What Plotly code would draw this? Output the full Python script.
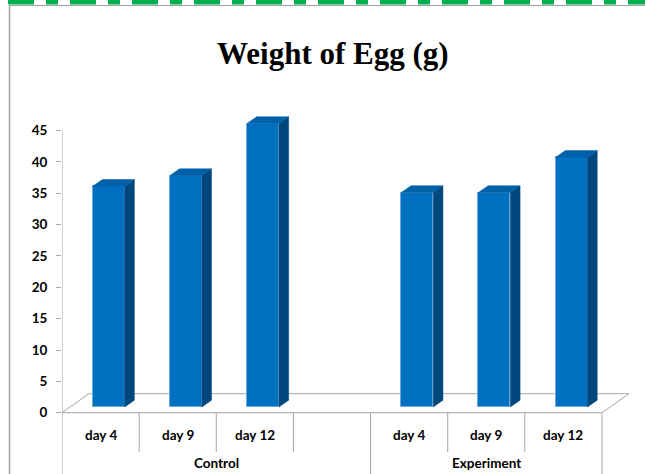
import plotly.graph_objects as go

# --- data -------------------------------------------------------------
day_labels = ["day 4", "day 9", "day 12", "", "day 4", "day 9", "day 12"]
egg_weight = [35.2, 36.9, 45.2, None, 34.2, 34.2, 39.8]
groups = ["Control", "Experiment"]
group_spans = [(0, 3), (4, 6)]          # first / last category index of each group
y_ticks = [0, 5, 10, 15, 20, 25, 30, 35, 40, 45]
title_text = "Weight of Egg (g)"

# --- styling / geometry ----------------------------------------------
W, H = 645, 474
PX_PER_CAT = 77.14                       # horizontal pixels per category
PX_PER_UNIT = 6.27                       # vertical pixels per gram
LEFT_PX, RIGHT_PX = 62, 632              # plot area (pixels)
TOP_PX, BOTTOM_PX = 100, 474
ZERO_PX = 412.7                          # pixel row of value 0 on the front edge

x_range = [-0.5, -0.5 + (RIGHT_PX - LEFT_PX) / PX_PER_CAT]
y_range = [-(BOTTOM_PX - ZERO_PX) / PX_PER_UNIT, (ZERO_PX - TOP_PX) / PX_PER_UNIT]

FLOOR_DX = 27 / PX_PER_CAT               # oblique depth of the floor (data units)
FLOOR_DY = 19 / PX_PER_UNIT
BAR_FRONT, BAR_BACK = 0.30, 0.66         # bar position inside the depth (fractions)
BAR_W = 32 / PX_PER_CAT

FRONT = "#0070C0"
TOP = "#0061A8"
SIDE = "#00477E"
EDGE = "#6FA8DC"
GRID = "#A6A6A6"
TXT = "#000000"

n = len(day_labels)


def px_x(p):
    return (p - LEFT_PX) / (RIGHT_PX - LEFT_PX)


def px_y(p):
    return (BOTTOM_PX - p) / (BOTTOM_PX - TOP_PX)


def val_at_px(p):
    return -(p - ZERO_PX) / PX_PER_UNIT


fig = go.Figure()

# --- 3D column faces --------------------------------------------------
base = BAR_FRONT * FLOOR_DY
ddx = (BAR_BACK - BAR_FRONT) * FLOOR_DX
ddy = (BAR_BACK - BAR_FRONT) * FLOOR_DY
xs, ys, bases = [], [], []
for i, v in enumerate(egg_weight):
    if v is None:
        continue
    xc = i + BAR_FRONT * FLOOR_DX
    xl, xr = xc - BAR_W / 2, xc + BAR_W / 2
    top = base + v
    # right side face
    fig.add_trace(go.Scatter(
        x=[xr, xr, xr + ddx, xr + ddx, xr], y=[base, top, top + ddy, base + ddy, base],
        fill="toself", fillcolor=SIDE, mode="lines", line=dict(width=0.5, color=SIDE),
        hoverinfo="skip", showlegend=False))
    # top face
    fig.add_trace(go.Scatter(
        x=[xl, xr, xr + ddx, xl + ddx, xl], y=[top, top, top + ddy, top + ddy, top],
        fill="toself", fillcolor=TOP, mode="lines", line=dict(width=0.5, color=TOP),
        hoverinfo="skip", showlegend=False))
    xs.append(xc)
    ys.append(v)
    bases.append(base)

# front faces
fig.add_trace(go.Bar(
    x=xs, y=ys, base=bases, width=BAR_W,
    marker=dict(color=FRONT, line=dict(color=EDGE, width=1)),
    showlegend=False, hovertemplate="%{y}<extra></extra>"))

# --- floor and vertical axis -----------------------------------------
shapes = []
x0, x1 = -0.5, n - 0.5
floor_lines = [
    (x0, 0, x1, 0),
    (x0 + FLOOR_DX, FLOOR_DY, x1 + FLOOR_DX, FLOOR_DY),
    (x0, 0, x0 + FLOOR_DX, FLOOR_DY),
    (x1, 0, x1 + FLOOR_DX, FLOOR_DY),
    (x0, 0, x0, max(y_ticks)),
]
for a, b, c, d in floor_lines:
    shapes.append(dict(type="line", xref="x", yref="y", x0=a, y0=b, x1=c, y1=d,
                       line=dict(color=GRID, width=1), layer="below"))

# category dividers: short between days, long at group boundaries
group_edges = {x0, x1} | {s[1] + 0.5 for s in group_spans[:-1]}
for k in range(n + 1):
    xv = -0.5 + k
    long_line = any(abs(xv - g) < 1e-9 for g in group_edges)
    y_end = y_range[0] if long_line else val_at_px(452)
    shapes.append(dict(type="line", xref="x", yref="y", x0=xv, x1=xv, y0=0, y1=y_end,
                       line=dict(color=GRID, width=1), layer="below"))

# chart frame: grey border with green dashed top
shapes.append(dict(type="line", xref="paper", yref="paper",
                   x0=px_x(9.5), x1=px_x(9.5), y0=px_y(5), y1=px_y(480),
                   line=dict(color="#A0A0A0", width=1.5)))
shapes.append(dict(type="line", xref="paper", yref="paper",
                   x0=px_x(9), x1=px_x(650), y0=px_y(5.5), y1=px_y(5.5),
                   line=dict(color="#A0A0A0", width=1)))
shapes.append(dict(type="line", xref="paper", yref="paper",
                   x0=px_x(8), x1=px_x(650), y0=px_y(2.3), y1=px_y(2.3),
                   line=dict(color="#00B050", width=4.6, dash="26px,12px,12px,12px")))

# --- text -------------------------------------------------------------
annotations = []
label_font = dict(family="Lato", size=13.5, color=TXT, weight="bold")
for i, lab in enumerate(day_labels):
    if lab:
        annotations.append(dict(x=i, y=val_at_px(435), xref="x", yref="y", text=lab,
                                showarrow=False, font=label_font,
                                xanchor="center", yanchor="middle"))
for g, (a, b) in zip(groups, group_spans):
    annotations.append(dict(x=(a + b) / 2, y=val_at_px(463), xref="x", yref="y",
                            text=g, showarrow=False, font=label_font,
                            xanchor="center", yanchor="middle"))
annotations.append(dict(x=px_x(333), y=px_y(54), xref="paper", yref="paper",
                        text=title_text, showarrow=False,
                        font=dict(family="Liberation Serif", size=31, color=TXT,
                                  weight="bold"),
                        xanchor="center", yanchor="middle"))

fig.update_layout(
    width=W, height=H,
    margin=dict(l=LEFT_PX, r=W - RIGHT_PX, t=TOP_PX, b=H - BOTTOM_PX, pad=0),
    paper_bgcolor="white", plot_bgcolor="white",
    shapes=shapes, annotations=annotations,
    bargap=0,
    xaxis=dict(range=x_range, visible=False, fixedrange=True),
    yaxis=dict(range=y_range, tickvals=y_ticks, ticktext=[str(t) for t in y_ticks],
               showgrid=False, zeroline=False, showline=False,
               ticks="outside", ticklen=5, tickcolor=GRID, tickwidth=1,
               ticklabelstandoff=6,
               tickfont=dict(family="Lato", size=13.5, color=TXT, weight="bold"),
               fixedrange=True),
)

fig.write_html("out.html")
